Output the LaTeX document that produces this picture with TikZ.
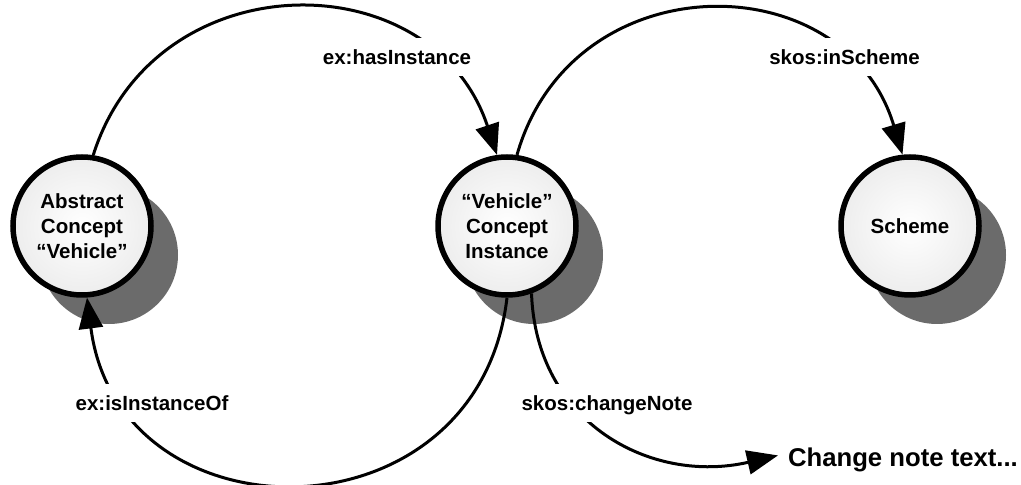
\documentclass[tikz,border=0pt]{standalone}
\usepackage{fontspec}
\setmainfont{Liberation Sans}
\usetikzlibrary{arrows.meta,shadows}
\begin{document}
\begin{tikzpicture}[x=1pt,y=1pt,
  concept/.style={circle, draw=black, line width=5.5pt, minimum size=138pt,
    inner sep=0pt, align=center, font=\fontsize{20.5}{25}\selectfont\bfseries,
    inner color=white, outer color=black!7,
    drop shadow={shadow xshift=27pt, shadow yshift=-29pt, fill=black!58, opacity=1}},
  rel/.style={line width=3pt, -{Triangle[length=31pt,width=24pt]}},
  lbl/.style={fill=white, inner xsep=2pt, inner ysep=11.5pt, text height=15pt,
    text depth=0pt, font=\fontsize{20.5}{25}\selectfont\bfseries}
]
\useasboundingbox (0,0) rectangle (1021,485);
\node[concept] (abs) at (82,259) {Abstract\\Concept\\“Vehicle”};
\node[concept] (mid) at (507,259) {“Vehicle”\\Concept\\Instance};
\node[concept] (sch) at (910,259) {Scheme};
\node[anchor=base west, inner xsep=10pt, inner ysep=0pt, outer sep=0pt,
  font=\fontsize{25.7}{30}\selectfont\bfseries] (note) at (778,18) {Change note text...};

\draw[rel] (abs.81) .. controls +(72.4:205) and +(108.3:205) .. (mid.98);
\draw[rel] (mid.82) .. controls +(74.1:201) and +(106.7:201) .. (sch.96);
\draw[rel] (mid.-90) .. controls +(-96.7:249) and +(-82.7:249) .. (abs.-86);
\draw[rel] (mid.-70) .. controls +(-88:130) and +(193:130) .. ([yshift=5pt]note.west);

\node[lbl] (l1) at (397,428) {ex:hasInstance};
\node[lbl] (l2) at (844.5,428) {skos:inScheme};
\node[lbl] (l3) at (152,82) {ex:isInstanceOf};
\node[lbl] (l4) at (607,82) {skos:changeNote};
\end{tikzpicture}
\end{document}
